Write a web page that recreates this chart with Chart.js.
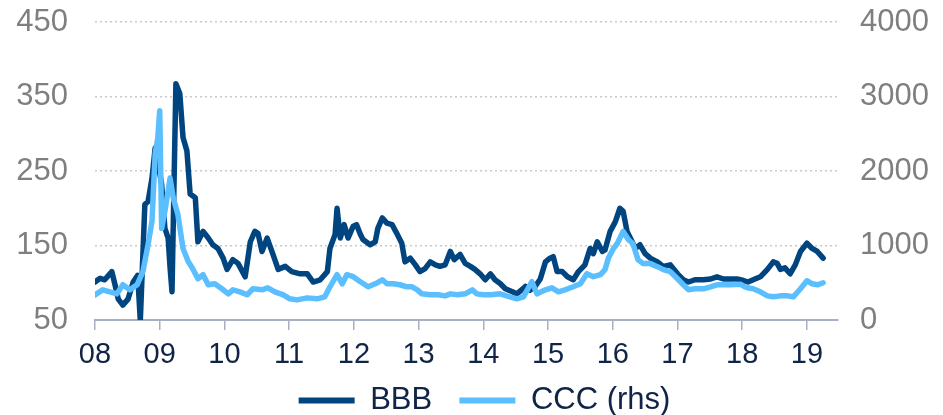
<!DOCTYPE html>
<html>
<head>
<meta charset="utf-8">
<script src="https://cdn.jsdelivr.net/npm/chart.js@4.4.1/dist/chart.umd.min.js"></script>
<style>
  html, body { margin: 0; padding: 0; background: #fff; }
  #wrap { width: 943px; height: 415px; position: relative; }
</style>
</head>
<body>
<div id="wrap"><canvas id="spreadChart"></canvas></div>
<script>
// ====================================================================
// DADOS: spreads BBB (eixo esq.) e CCC (eixo dir., rhs)
// ====================================================================
const bbbDates = [
  2008.00, 2008.08, 2008.15, 2008.26, 2008.31, 2008.36, 2008.43, 2008.51, 2008.59, 2008.66,
  2008.70, 2008.77, 2008.82, 2008.88, 2008.93, 2008.97, 2009.03, 2009.08, 2009.13, 2009.16,
  2009.19, 2009.21, 2009.25, 2009.31, 2009.36, 2009.42, 2009.47, 2009.55, 2009.59, 2009.67,
  2009.75, 2009.82, 2009.90, 2009.98, 2010.04, 2010.13, 2010.21, 2010.32, 2010.40, 2010.47,
  2010.52, 2010.58, 2010.66, 2010.75, 2010.83, 2010.94, 2011.04, 2011.17, 2011.28, 2011.37,
  2011.48, 2011.59, 2011.63, 2011.71, 2011.74, 2011.79, 2011.85, 2011.91, 2011.99, 2012.04,
  2012.10, 2012.14, 2012.25, 2012.33, 2012.37, 2012.44, 2012.51, 2012.59, 2012.67, 2012.74,
  2012.79, 2012.87, 2012.95, 2013.02, 2013.10, 2013.18, 2013.26, 2013.33, 2013.41, 2013.49,
  2013.55, 2013.64, 2013.72, 2013.80, 2013.87, 2013.95, 2014.03, 2014.11, 2014.18, 2014.26,
  2014.34, 2014.45, 2014.52, 2014.60, 2014.65, 2014.72, 2014.80, 2014.88, 2014.96, 2015.03,
  2015.08, 2015.14, 2015.22, 2015.30, 2015.39, 2015.47, 2015.57, 2015.65, 2015.70, 2015.76,
  2015.84, 2015.88, 2015.96, 2016.04, 2016.11, 2016.16, 2016.22, 2016.27, 2016.35, 2016.42,
  2016.50, 2016.58, 2016.69, 2016.78, 2016.89, 2017.00, 2017.09, 2017.17, 2017.27, 2017.40,
  2017.51, 2017.61, 2017.71, 2017.81, 2017.92, 2018.02, 2018.09, 2018.17, 2018.28, 2018.39,
  2018.48, 2018.54, 2018.59, 2018.66, 2018.74, 2018.82, 2018.90, 2019.00, 2019.08, 2019.16,
  2019.25
];
const bbbValues = [
  101, 106, 104, 115, 97, 78, 70, 78, 101, 110,
  49, 205, 209, 240, 281, 263, 232, 173, 160, 120,
  88, 182, 367, 354, 295, 277, 219, 214, 155, 169,
  160, 151, 146, 133, 118, 131, 126, 108, 155, 169,
  166, 142, 160, 138, 118, 122, 115, 112, 112, 101,
  104, 115, 146, 165, 200, 160, 178, 160, 176, 178,
  165, 158, 151, 155, 173, 187, 180, 178, 165, 153,
  128, 133, 124, 115, 119, 128, 124, 122, 124, 142,
  131, 138, 126, 122, 118, 112, 104, 112, 104, 99,
  92, 88, 85, 91, 95, 90, 95, 105, 128, 133,
  135, 115, 115, 108, 104, 115, 124, 146, 139, 155,
  142, 144, 169, 182, 200, 196, 169, 160, 146, 151,
  139, 133, 128, 122, 124, 112, 104, 101, 104, 104,
  105, 108, 105, 105, 105, 103, 101, 104, 108, 118,
  128, 126, 118, 120, 112, 124, 142, 153, 146, 142,
  133
];

const cccDates = [
  2008.00, 2008.12, 2008.23, 2008.34, 2008.43, 2008.54, 2008.65, 2008.74, 2008.82, 2008.88,
  2008.93, 2008.97, 2009.00, 2009.03, 2009.08, 2009.16, 2009.21, 2009.28, 2009.36, 2009.44,
  2009.51, 2009.59, 2009.67, 2009.75, 2009.85, 2009.96, 2010.06, 2010.13, 2010.24, 2010.35,
  2010.44, 2010.58, 2010.67, 2010.78, 2010.91, 2011.01, 2011.12, 2011.28, 2011.43, 2011.55,
  2011.63, 2011.74, 2011.82, 2011.89, 2011.99, 2012.10, 2012.22, 2012.33, 2012.44, 2012.51,
  2012.61, 2012.71, 2012.82, 2012.90, 2012.98, 2013.05, 2013.18, 2013.30, 2013.41, 2013.49,
  2013.60, 2013.72, 2013.83, 2013.90, 2014.00, 2014.11, 2014.26, 2014.41, 2014.52, 2014.62,
  2014.75, 2014.83, 2014.96, 2015.06, 2015.16, 2015.26, 2015.39, 2015.50, 2015.60, 2015.70,
  2015.81, 2015.88, 2015.93, 2016.01, 2016.07, 2016.16, 2016.24, 2016.31, 2016.39, 2016.47,
  2016.58, 2016.69, 2016.78, 2016.89, 2017.00, 2017.09, 2017.17, 2017.27, 2017.40, 2017.51,
  2017.61, 2017.71, 2017.81, 2017.97, 2018.03, 2018.08, 2018.17, 2018.28, 2018.39, 2018.48,
  2018.59, 2018.70, 2018.79, 2018.90, 2019.00, 2019.08, 2019.17, 2019.25
];
const cccValues = [
  338, 405, 378, 351, 473, 405, 473, 648, 1013, 1324,
  2229, 2445, 2810, 1230, 1459, 1905, 1635, 1419, 959, 784,
  689, 554, 608, 473, 486, 419, 351, 405, 378, 338,
  419, 405, 432, 378, 338, 284, 270, 297, 284, 311,
  446, 608, 486, 608, 581, 514, 446, 486, 540, 486,
  486, 473, 446, 446, 405, 351, 338, 338, 324, 351,
  338, 351, 405, 351, 338, 338, 351, 311, 284, 311,
  514, 351, 405, 432, 378, 405, 446, 486, 621, 581,
  608, 676, 824, 959, 1027, 1189, 1081, 1027, 811, 757,
  757, 716, 676, 648, 554, 473, 405, 419, 419, 446,
  473, 473, 473, 480, 450, 432, 419, 378, 324, 311,
  324, 324, 311, 419, 527, 486, 473, 500
];

// rótulos e limites dos eixos
const xStart = 2008;
const xEnd = 2019.48;
const yearTicks = [2008, 2009, 2010, 2011, 2012, 2013, 2014, 2015, 2016, 2017, 2018, 2019];
const leftTicks = [50, 150, 250, 350, 450];
const rightTicks = [0, 1000, 2000, 3000, 4000];
const seriesNames = ['BBB', 'CCC (rhs)'];
const seriesColors = ['#00457f', '#5bbfff'];

// ====================================================================
// GRÁFICO
// ====================================================================
const fontFamily = '"Liberation Sans", Arial, sans-serif';
const toPoints = (dates, values) => dates.map((d, i) => ({ x: d, y: values[i] }));

// largura fixa dos eixos verticais, sem padding extra em cima/baixo
const fixVertical = (width) => (scale) => {
  scale.width = width;
  scale.paddingTop = 0;
  scale.paddingBottom = 0;
};

// empurra a legenda um pouco para a direita (como no original)
const legendShift = {
  id: 'legendShift',
  afterLayout(chart) {
    if (chart.legend) {
      chart.legend.left += 13;
      chart.legend.right += 13;
    }
  }
};

const chartElement = document.getElementById('spreadChart');

new Chart(chartElement, {
  type: 'line',
  data: {
    datasets: [
      {
        label: seriesNames[0],
        data: toPoints(bbbDates, bbbValues),
        yAxisID: 'yLeft',
        borderColor: seriesColors[0],
        backgroundColor: seriesColors[0],
        borderWidth: 5.5,
        pointRadius: 0,
        order: 1
      },
      {
        label: seriesNames[1],
        data: toPoints(cccDates, cccValues),
        yAxisID: 'yRight',
        borderColor: seriesColors[1],
        backgroundColor: seriesColors[1],
        borderWidth: 5.5,
        pointRadius: 0,
        order: 0 // CCC por cima
      }
    ]
  },
  plugins: [legendShift],
  options: {
    responsive: true,
    maintainAspectRatio: false,
    animation: false,
    events: [],
    layout: { padding: { top: 22, left: 0, right: 0, bottom: -11 } },
    elements: { line: { tension: 0, borderJoinStyle: 'round', borderCapStyle: 'round' } },
    scales: {
      x: {
        type: 'linear',
        min: xStart,
        max: xEnd,
        afterBuildTicks: (scale) => { scale.ticks = yearTicks.map(v => ({ value: v })); },
        afterFit: (scale) => { scale.height = 55; },
        ticks: {
          autoSkip: false,
          maxRotation: 0,
          padding: 8,
          color: '#0f2446',
          font: { family: fontFamily, size: 29 },
          callback: (v) => String(Math.round(v)).slice(2)
        },
        grid: {
          drawOnChartArea: false,
          drawTicks: true,
          tickLength: 10,
          color: '#a7b0c3',
          lineWidth: 1.5
        },
        border: { display: true, color: '#a7b0c3', width: 2 }
      },
      yLeft: {
        position: 'left',
        min: 50,
        max: 450,
        afterBuildTicks: (scale) => { scale.ticks = leftTicks.map(v => ({ value: v })); },
        afterFit: fixVertical(95),
        ticks: {
          padding: 27,
          color: '#7f7f7f',
          font: { family: fontFamily, size: 31 },
          callback: (v) => String(v)
        },
        grid: {
          drawTicks: false,
          color: (ctx) => ctx.tick && ctx.tick.value === 50 ? 'rgba(0,0,0,0)' : '#c9c9c9',
          lineWidth: 1.5
        },
        border: { display: false, dash: [2, 3] }
      },
      yRight: {
        position: 'right',
        min: 0,
        max: 4000,
        afterBuildTicks: (scale) => { scale.ticks = rightTicks.map(v => ({ value: v })); },
        afterFit: fixVertical(105),
        ticks: {
          padding: 22,
          color: '#7f7f7f',
          font: { family: fontFamily, size: 31 },
          callback: (v) => String(v)
        },
        grid: { display: false, drawTicks: false },
        border: { display: false }
      }
    },
    plugins: {
      tooltip: { enabled: false },
      legend: {
        display: true,
        position: 'bottom',
        labels: {
          color: '#0f2446',
          font: { family: fontFamily, size: 31 },
          boxWidth: 56,
          boxHeight: 6,
          padding: 10,
          useBorderRadius: true,
          borderRadius: 3,
          // espaço extra depois do primeiro item, como no original
          generateLabels: (chart) => chart.data.datasets.map((ds, i) => ({
            text: i === 0 ? ds.label + '  ' : ds.label,
            fillStyle: ds.borderColor,
            strokeStyle: ds.borderColor,
            lineWidth: 0,
            fontColor: '#0f2446',
            datasetIndex: i,
            hidden: false
          }))
        }
      }
    }
  }
});
</script>
</body>
</html>
